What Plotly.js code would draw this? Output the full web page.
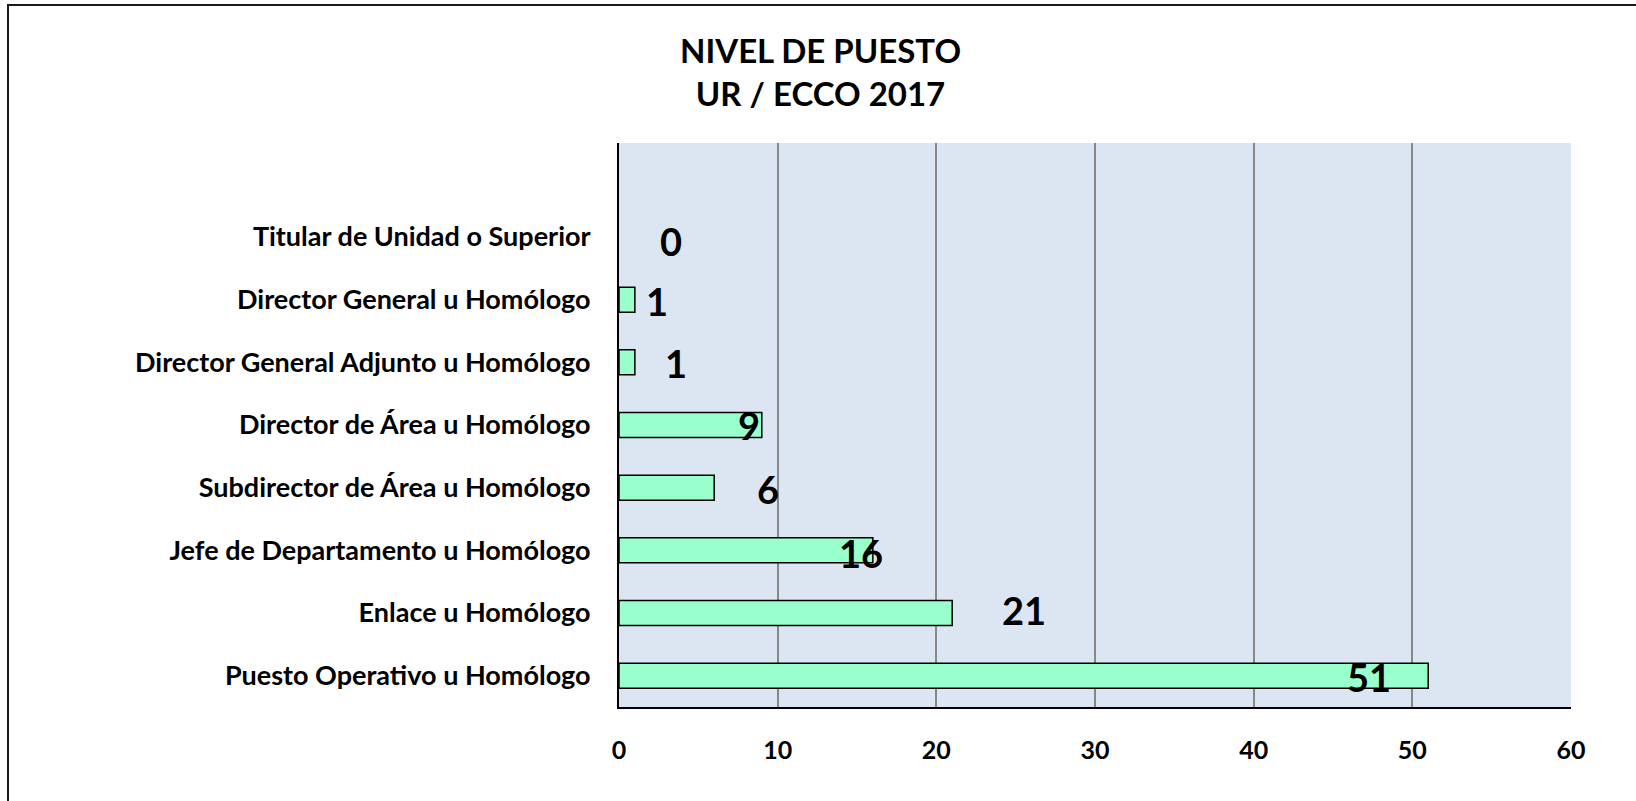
<!DOCTYPE html>
<html>
<head>
<meta charset="utf-8">
<script src="https://cdn.plot.ly/plotly-3.0.1.min.js"></script>
<style>
  html, body { margin: 0; padding: 0; background: #ffffff; }
  #wrap { position: relative; width: 1636px; height: 801px; }
  #chart { position: absolute; left: 0; top: 0; width: 1636px; height: 801px; }
  #frameTop { position: absolute; left: 7px; top: 4px; width: 1629px; height: 0; border-top: 2px solid #1a1a1a; pointer-events: none; }
  #frameLeft { position: absolute; left: 7px; top: 4px; width: 0; height: 797px; border-left: 2px solid #1a1a1a; pointer-events: none; }
</style>
</head>
<body>
<div id="wrap">
  <div id="chart"></div>
  <div id="frameTop"></div>
  <div id="frameLeft"></div>
</div>
<script>
// ---- data (top to bottom as displayed) ----
var categories = [
  "Titular de Unidad o Superior",
  "Director General u Homólogo",
  "Director General Adjunto u Homólogo",
  "Director de Área u Homólogo",
  "Subdirector de Área u Homólogo",
  "Jefe de Departamento u Homólogo",
  "Enlace u Homólogo",
  "Puesto Operativo u Homólogo"
];
var values = [0, 1, 1, 9, 6, 16, 21, 51];
var xTickValues = [0, 10, 20, 30, 40, 50, 60];
var titleLines = ["NIVEL DE PUESTO", "UR / ECCO 2017"];

// ---- label placement styling (pixel offsets from bar end, as in the original) ----
var labelShiftX = [52, 22, 41, -13, 54, -12, 72, -59];
var labelShiftY = [-4, -1, -1, 0, -1, -3, 3, -1];

var FONT = "Lato, 'Open Sans', 'DejaVu Sans', sans-serif";

var trace = {
  type: "bar",
  orientation: "h",
  x: values,
  y: categories,
  width: 0.4,
  marker: {
    color: "#99FFCC",
    line: { color: "#000000", width: values.map(function (v) { return v > 0 ? 1.5 : 0; }) }
  },
  hoverinfo: "none"
};

var annotations = values.map(function (v, i) {
  return {
    x: v, y: categories[i], xref: "x", yref: "y",
    text: String(v), showarrow: false,
    xanchor: "center", yanchor: "middle",
    xshift: labelShiftX[i], yshift: labelShiftY[i],
    font: { family: FONT, size: 38, color: "#000000", weight: 700 }
  };
});

// chart title (centred on the whole figure, as in the original)
var mL = 619, mR = 65, mT = 143, mB = 94, W = 1636, H = 801;
var plotW = W - mL - mR, plotH = H - mT - mB;
annotations.push({
  xref: "paper", yref: "paper",
  x: (W / 2 + 2 - mL) / plotW,
  y: (H - mB - 71) / plotH,
  xanchor: "center", yanchor: "middle",
  showarrow: false,
  text: "<b>" + titleLines.join("<br>") + "</b>",
  font: { family: FONT, size: 33, color: "#000000" }
});

var layout = {
  width: W, height: H,
  paper_bgcolor: "#ffffff",
  plot_bgcolor: "#DCE6F2",
  margin: { l: mL, r: mR, t: mT, b: mB, pad: 0 },
  showlegend: false,
  xaxis: {
    range: [0, 60],
    tickvals: xTickValues,
    ticktext: xTickValues.map(String),
    showgrid: true, gridcolor: "#878787", gridwidth: 2,
    zeroline: false,
    showline: true, linecolor: "#000000", linewidth: 2,
    ticks: "", ticklabelstandoff: 20,
    tickfont: { family: FONT, size: 25, color: "#000000", weight: 700 },
    fixedrange: true
  },
  yaxis: {
    type: "category",
    range: [7.5, -1.5],
    autorange: false,
    showgrid: false, zeroline: false,
    showline: true, linecolor: "#000000", linewidth: 2,
    ticks: "", ticklabelstandoff: 21,
    tickfont: { family: FONT, size: 27, color: "#000000", weight: 700 },
    fixedrange: true
  },
  annotations: annotations
};

Plotly.newPlot("chart", [trace], layout, { displayModeBar: false, staticPlot: true });
</script>
</body>
</html>
